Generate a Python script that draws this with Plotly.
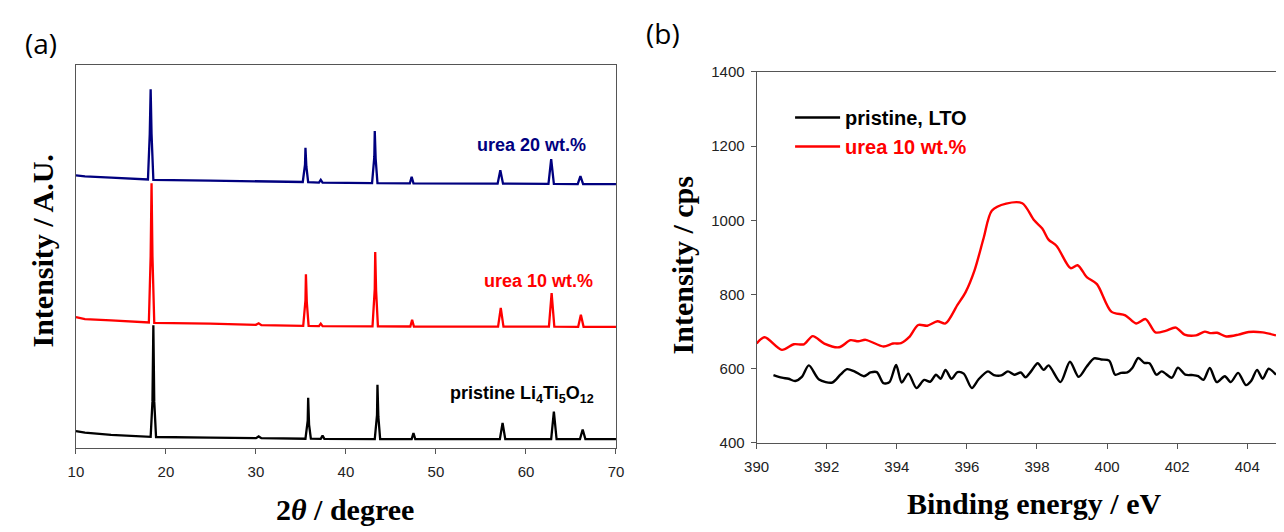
import plotly.graph_objects as go

# ---------------- Panel (a): XRD patterns (arbitrary units) ----------------
xrd_pristine_x = [10.0, 10.5, 11.0, 13.9, 16.0, 18.3, 18.5, 18.6, 18.7, 18.9, 24.9, 30.0, 30.3, 30.6,
                  35.5, 35.75, 35.8, 35.9, 36.1, 37.2, 37.4, 37.6, 43.2, 43.45, 43.5, 43.6, 43.8,
                  47.3, 47.5, 47.7, 57.1, 57.4, 57.7, 62.8, 63.1, 63.4, 66.0, 66.3, 66.6, 70.0]
xrd_pristine_y = [4.30, 4.0, 3.90, 3.29, 3.00, 2.80, 12.0, 31.97, 12.0, 2.75, 2.61, 2.45, 2.90, 2.45,
                  2.30, 7.0, 12.99, 6.0, 2.30, 2.25, 3.10, 2.25, 2.20, 8.5, 16.38, 8.0, 2.20,
                  2.20, 3.80, 2.20, 2.20, 6.40, 2.20, 2.20, 9.37, 2.20, 2.20, 4.73, 2.20, 2.20]

xrd_urea10_x = [10.0, 10.5, 11.0, 13.9, 16.0, 18.1, 18.3, 18.4, 18.5, 18.7, 24.9, 30.0, 30.3, 30.6,
                35.25, 35.5, 35.55, 35.65, 35.85, 37.0, 37.2, 37.4, 42.95, 43.2, 43.25, 43.35, 43.55,
                47.15, 47.35, 47.55, 56.9, 57.2, 57.5, 62.55, 62.85, 63.15, 65.8, 66.1, 66.4, 70.0]
xrd_urea10_y = [34.1, 33.9, 33.6, 33.24, 32.9, 32.7, 50.0, 69.1, 50.0, 32.6, 32.4, 32.1, 32.5, 32.0,
                31.8, 38.5, 45.3, 38.0, 31.8, 31.75, 32.4, 31.75, 31.7, 41.5, 51.1, 41.0, 31.7,
                31.65, 33.4, 31.65, 31.6, 36.5, 31.6, 31.6, 40.4, 31.6, 31.57, 34.75, 31.57, 31.57]

xrd_urea20_x = [10.0, 10.5, 11.0, 13.9, 16.0, 18.0, 18.2, 18.3, 18.4, 18.6, 24.9, 34.0,
                35.2, 35.45, 35.5, 35.6, 35.8, 37.0, 37.2, 37.4, 42.9, 43.15, 43.2, 43.3, 43.5,
                47.1, 47.3, 47.5, 56.85, 57.15, 57.45, 62.5, 62.8, 63.1, 65.75, 66.05, 66.35, 70.0]
xrd_urea20_y = [71.2, 71.0, 70.9, 70.6, 70.3, 70.1, 82.0, 93.7, 82.0, 70.0, 69.8, 69.5,
                69.45, 74.0, 78.4, 73.5, 69.4, 69.3, 70.0, 69.3, 69.15, 76.0, 82.8, 75.5, 69.15,
                69.1, 70.8, 69.1, 69.0, 72.5, 69.0, 68.95, 75.4, 68.95, 68.9, 71.0, 68.9, 68.9]

# ---------------- Panel (b): XPS N 1s ----------------
xps_pristine_x = [390.48, 390.72, 390.91, 391.10, 391.29, 391.49, 391.78, 392.16, 392.39, 392.58,
                  392.79, 393.06, 393.25, 393.43, 393.62, 393.79, 393.98, 394.14, 394.33, 394.56,
                  394.78, 394.95, 395.12, 395.25, 395.39, 395.56, 395.73, 395.91, 396.14, 396.33,
                  396.60, 396.77, 396.98, 397.17, 397.35, 397.54, 397.67, 397.83, 398.02, 398.19,
                  398.33, 398.67, 398.94, 399.19, 399.42, 399.63, 399.83, 400.06, 400.23, 400.40,
                  400.58, 400.72, 400.89, 401.06, 401.21, 401.41, 401.56, 401.85, 402.02, 402.23,
                  402.45, 402.60, 402.75, 402.93, 403.13, 403.36, 403.53, 403.74, 403.96, 404.11,
                  404.28, 404.44, 404.61, 404.82]
xps_pristine_y = [583, 576, 573, 567, 578, 609, 571, 563, 584, 599,
                  593, 580, 590, 591, 561, 564, 610, 563, 587, 548,
                  570, 565, 584, 573, 597, 573, 591, 587, 548, 571,
                  593, 583, 582, 593, 584, 590, 577, 593, 615, 597,
                  609, 564, 619, 578, 606, 628, 625, 622, 584, 589,
                  590, 602, 629, 616, 615, 584, 593, 576, 603, 584,
                  583, 580, 570, 602, 564, 580, 564, 589, 556, 567,
                  597, 573, 600, 584]

xps_urea10_x = [390.00, 390.23, 390.72, 391.06, 391.35, 391.60, 391.93, 392.35, 392.68, 392.90,
                393.11, 393.62, 393.89, 394.12, 394.35, 394.61, 394.87, 395.16, 395.39, 395.73,
                395.96, 396.22, 396.48, 396.71, 397.12, 397.58, 397.92, 398.15, 398.33, 398.56,
                398.96, 399.16, 399.42, 399.71, 400.12, 400.52, 400.83, 401.10, 401.38, 401.67,
                401.96, 402.21, 402.54, 402.79, 402.94, 403.14, 403.40, 403.75, 404.04, 404.44,
                404.82]
xps_urea10_y = [668, 685, 651, 666, 666, 688, 668, 658, 677, 674,
                678, 660, 668, 669, 685, 718, 716, 728, 722, 772,
                806, 866, 953, 1026, 1045, 1046, 1000, 978, 948, 931,
                871, 879, 847, 828, 754, 744, 722, 734, 698, 702,
                711, 692, 690, 700, 696, 697, 687, 692, 699, 698,
                690]

NAVY = "#00007f"
RED = "#ff0000"
BLACK = "#000000"
AXC = "#555555"
TICKFONT = dict(family="Liberation Sans, Arial, sans-serif", size=15, color="#222222")
TITLEFONT = dict(family="Liberation Serif, Times New Roman, serif", size=30, color="#000000")

fig = go.Figure()

# Panel (a)
fig.add_trace(go.Scatter(x=xrd_urea20_x, y=xrd_urea20_y, mode="lines", line=dict(color=NAVY, width=2.3),
                         xaxis="x", yaxis="y", showlegend=False))
fig.add_trace(go.Scatter(x=xrd_urea10_x, y=xrd_urea10_y, mode="lines", line=dict(color=RED, width=2.3),
                         xaxis="x", yaxis="y", showlegend=False))
fig.add_trace(go.Scatter(x=xrd_pristine_x, y=xrd_pristine_y, mode="lines", line=dict(color=BLACK, width=2.3),
                         xaxis="x", yaxis="y", showlegend=False))

# Panel (b)
fig.add_trace(go.Scatter(x=xps_pristine_x, y=xps_pristine_y, mode="lines",
                         line=dict(color=BLACK, width=2.4, shape="spline", smoothing=0.8),
                         xaxis="x2", yaxis="y2", name="<b>pristine, LTO</b>"))
fig.add_trace(go.Scatter(x=xps_urea10_x, y=xps_urea10_y, mode="lines",
                         line=dict(color=RED, width=2.4, shape="spline", smoothing=0.8),
                         xaxis="x2", yaxis="y2",
                         name="<b><span style='color:#ff0000'>urea 10 wt.%</span></b>"))

W, H = 1284, 532

def px_x(p):
    return p / W

def px_y(p):
    return (H - p) / H

axis_common = dict(showline=True, linecolor=AXC, linewidth=1, showgrid=False, zeroline=False,
                   tickfont=TICKFONT, ticks="outside", ticklen=5, tickcolor=AXC, tickwidth=1)

fig.update_layout(
    width=W, height=H,
    margin=dict(l=0, r=0, t=0, b=0),
    paper_bgcolor="white", plot_bgcolor="white",
    xaxis=dict(domain=[px_x(64), px_x(613)], range=[10, 70], dtick=10, mirror=True,
               anchor="y", ticklabelstandoff=5, **axis_common),
    yaxis=dict(domain=[px_y(453), px_y(58)], range=[0, 100], showticklabels=False,
               showline=True, linecolor=AXC, linewidth=1, mirror=True, ticks="",
               showgrid=False, zeroline=False, anchor="x"),
    xaxis2=dict(domain=[px_x(756), 1.0], range=[390, 404.82], dtick=2, mirror=True,
                anchor="y2", ticklabelstandoff=5, **axis_common),
    yaxis2=dict(domain=[px_y(448.3), px_y(65)], range=[400, 1400], dtick=200, mirror=False,
                anchor="x2", ticklabelstandoff=3, **axis_common),
    legend=dict(x=px_x(790), y=px_y(92), xanchor="left", yanchor="top", itemwidth=45,
                bgcolor="rgba(0,0,0,0)", borderwidth=0, tracegroupgap=0,
                font=dict(family="Liberation Sans, Arial, sans-serif", size=20, color="#000000")),
    showlegend=True,
)

annotations = [
    # panel labels
    dict(text="(a)", x=px_x(10), y=px_y(35), xref="paper", yref="paper", xanchor="left", yanchor="middle",
         showarrow=False, font=dict(family="Open Sans, sans-serif", size=28, color="#000")),
    dict(text="(b)", x=px_x(641), y=px_y(25), xref="paper", yref="paper", xanchor="left", yanchor="middle",
         showarrow=False, font=dict(family="Open Sans, sans-serif", size=28, color="#000")),
    # axis titles
    dict(text="<b>Intensity / A.U.</b>", x=px_x(30), y=px_y(250), xref="paper", yref="paper",
         textangle=-90, showarrow=False, font=TITLEFONT, xanchor="center", yanchor="middle"),
    dict(text="<b>2<i>θ</i> / degree</b>", x=px_x(338), y=px_y(517), xref="paper", yref="paper",
         showarrow=False, font=TITLEFONT, xanchor="center", yanchor="middle"),
    dict(text="<b>Intensity / cps</b>", x=px_x(681), y=px_y(265), xref="paper", yref="paper",
         textangle=-90, showarrow=False, font=TITLEFONT, xanchor="center", yanchor="middle"),
    dict(text="<b>Binding energy / eV</b>", x=px_x(1038), y=px_y(511), xref="paper", yref="paper",
         showarrow=False, font=TITLEFONT, xanchor="center", yanchor="middle"),
    # series labels in panel (a)
    dict(text="<b>urea 20 wt.%</b>", x=60.6, y=79.2, xref="x", yref="y", showarrow=False,
         font=dict(family="Liberation Sans, Arial, sans-serif", size=18, color=NAVY)),
    dict(text="<b>urea 10 wt.%</b>", x=61.4, y=43.5, xref="x", yref="y", showarrow=False,
         font=dict(family="Liberation Sans, Arial, sans-serif", size=18, color=RED)),
    dict(text="<b>pristine Li<sub>4</sub>Ti<sub>5</sub>O<sub>12</sub></b>", x=59.6, y=13.9,
         xref="x", yref="y", showarrow=False,
         font=dict(family="Liberation Sans, Arial, sans-serif", size=18, color=BLACK)),
]
fig.update_layout(annotations=annotations)

fig.write_html("out.html")
